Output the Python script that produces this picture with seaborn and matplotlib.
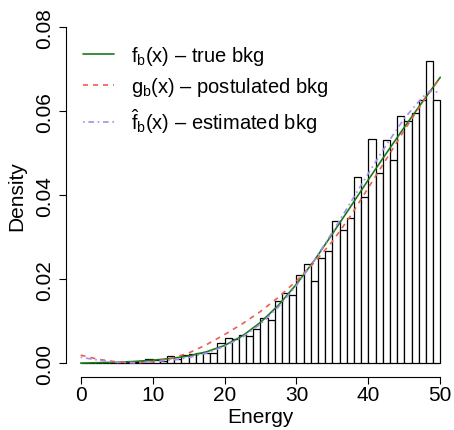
import numpy as np
import pandas as pd
import matplotlib
matplotlib.use("Agg")
import matplotlib.pyplot as plt
import seaborn as sns

# ---- data ----
bin_edges = list(range(0, 51))
hist_density = [
    0.0, 0.0, 0.0, 0.0, 0.0001, 0.0001, 0.0002, 0.0002, 0.0004, 0.0009,
    0.0008, 0.0004, 0.0017, 0.0010, 0.0019, 0.0021, 0.0024, 0.0024, 0.0025, 0.0049,
    0.0061, 0.0057, 0.0068, 0.0065, 0.0082, 0.0107, 0.0102, 0.0147, 0.0166, 0.0162,
    0.0211, 0.0236, 0.0195, 0.0250, 0.0268, 0.0339, 0.0318, 0.0345, 0.0443, 0.0395,
    0.0534, 0.0454, 0.0532, 0.0484, 0.0588, 0.0576, 0.0597, 0.0628, 0.0720, 0.0628,
]
curve_x = [0, 2.5, 5, 7.5, 10, 12.5, 15, 17.5, 20, 22.5, 25, 27.5, 30,
           32.5, 35, 37.5, 40, 42.5, 45, 47.5, 50]
true_bkg = [0.0, 0.0001, 0.0002, 0.0004, 0.0007, 0.0011, 0.0017, 0.0027, 0.0042,
            0.0065, 0.0097, 0.0138, 0.0188, 0.0245, 0.0308, 0.0372, 0.0437,
            0.0500, 0.0562, 0.0622, 0.0681]
postulated_bkg = [0.0019, 0.0009, 0.0003, 0.0001, 0.0003, 0.0011, 0.0024, 0.0044,
                  0.0068, 0.0094, 0.0123, 0.0157, 0.0196, 0.0240, 0.0290, 0.0350,
                  0.0418, 0.0486, 0.0555, 0.0620, 0.0681]
estimated_x = [0, 2.5, 5, 7.5, 10, 12.5, 15, 17.5, 20, 22.5, 25, 27.5, 30,
               32.5, 35, 37.5, 40, 42.5, 45, 47.5, 48.5, 50]
estimated_bkg = [0.0014, 0.0007, 0.0002, 0.0001, 0.0003, 0.0007, 0.0013, 0.0024,
                 0.0040, 0.0062, 0.0093, 0.0134, 0.0185, 0.0245, 0.0312, 0.0382,
                 0.0452, 0.0520, 0.0583, 0.0633, 0.0648, 0.0645]
x_ticks = [0, 10, 20, 30, 40, 50]
y_ticks = [0.00, 0.02, 0.04, 0.06, 0.08]
labels = [r"$\mathregular{f_b(x)}$ – true bkg",
          r"$\mathregular{g_b(x)}$ – postulated bkg",
          r"$\mathregular{\hat{f}_b(x)}$ – estimated bkg"]

# ---- style ----
sns.set_theme(style="ticks")
plt.rcParams["font.family"] = ["Liberation Sans", "DejaVu Sans"]
plt.rcParams["mathtext.fontset"] = "custom"
plt.rcParams["mathtext.rm"] = "Liberation Sans"
plt.rcParams["mathtext.it"] = "Liberation Sans"
plt.rcParams["mathtext.bf"] = "Liberation Sans:bold"
plt.rcParams["text.color"] = "black"
plt.rcParams["axes.labelcolor"] = "black"
plt.rcParams["xtick.color"] = "black"
plt.rcParams["ytick.color"] = "black"

fig = plt.figure(figsize=(4.54, 4.31), dpi=100)
ax = fig.add_axes([0.146, 0.124, 0.8555, 0.8415])

centers = [e + 0.5 for e in bin_edges[:-1]]
sns.histplot(x=centers, weights=hist_density, bins=bin_edges, stat="count",
             color="white", edgecolor="black", linewidth=0.9, alpha=1, ax=ax)

sns.lineplot(x=curve_x, y=true_bkg, color="#1a7a1a", linewidth=1.2, ax=ax,
             label=labels[0])
sns.lineplot(x=curve_x, y=postulated_bkg, color="#e8604f", linewidth=1.2, ax=ax,
             label=labels[1])
ax.lines[-1].set_dashes((3, 3))
sns.lineplot(x=estimated_x, y=estimated_bkg, color="#a48cf2", linewidth=1.2, ax=ax,
             label=labels[2])
ax.lines[-1].set_dashes((1, 2.2, 3.4, 2.2))

ax.set_xlim(-2, 52)
ax.set_ylim(-0.0032, 0.0832)
for s in ["top", "right"]:
    ax.spines[s].set_visible(False)
ax.spines["left"].set_bounds(0, 0.08)
ax.spines["bottom"].set_bounds(0, 50)
for s in ["left", "bottom"]:
    ax.spines[s].set_linewidth(0.8)
    ax.spines[s].set_color("black")

ax.set_xticks(x_ticks)
ax.set_xticklabels([str(t) for t in x_ticks])
ax.set_yticks(y_ticks)
ax.set_yticklabels([f"{t:.2f}" for t in y_ticks], rotation=90, va="center")
ax.tick_params(axis="both", length=5, width=0.8, colors="black", labelsize=15)
ax.tick_params(axis="x", pad=1)
ax.tick_params(axis="y", pad=4)

ax.set_xlabel("Energy", fontsize=15, color="black")
ax.set_ylabel("Density", fontsize=15, color="black")
ax.xaxis.set_label_coords(0.5, -0.084)
ax.yaxis.set_label_coords(-0.104, 0.5)

leg = ax.legend(loc="upper left", bbox_to_anchor=(83 / 454, 1 - 45 / 431),
                bbox_transform=fig.transFigure, frameon=False, fontsize=14.5,
                handlelength=1.55, handletextpad=0.85, labelspacing=0.42,
                borderpad=0, borderaxespad=0)
for t in leg.get_texts():
    t.set_color("black")

fig.savefig("out.png", dpi=100)
